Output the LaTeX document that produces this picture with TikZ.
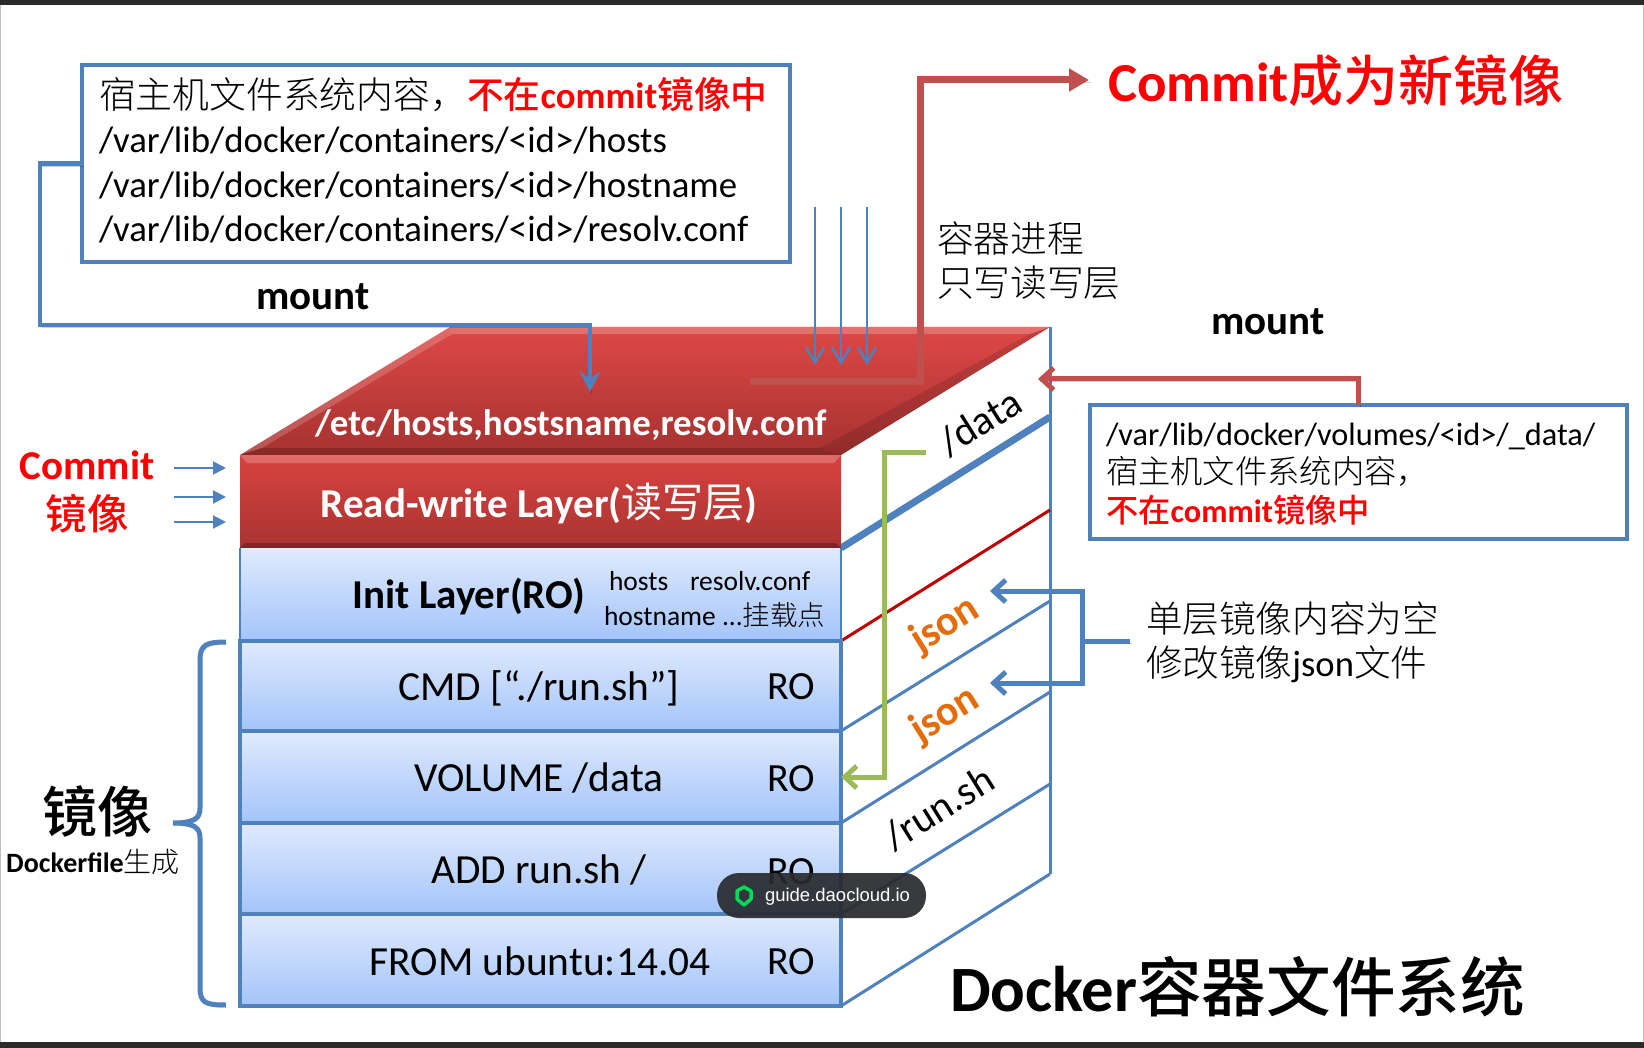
\documentclass[tikz,border=0pt]{standalone}
\usepackage{fontspec}
\setmainfont{Carlito}
\setsansfont{Liberation Sans}
\newfontfamily\cjk{Noto Sans CJK SC}
\newfontfamily\cjkl{Noto Sans CJK SC Light}
\newfontfamily\cjkm{Noto Sans CJK SC Medium}
\usetikzlibrary{arrows.meta,calc}
\definecolor{bl}{HTML}{4F81BD}
\definecolor{rd}{HTML}{C0504D}
\definecolor{gn}{HTML}{9BBB59}
\definecolor{og}{HTML}{E46C0A}
\definecolor{dred}{HTML}{C00000}
\definecolor{icon}{HTML}{00DC5A}
\newcommand{\fsz}[1]{\fontsize{#1}{#1}\selectfont}
\newcommand{\cn}[1]{{\mdseries\cjkl #1}}
\newcommand{\cb}[1]{{\mdseries\cjkm #1}}
\tikzset{
  txt/.style={inner sep=0pt,outer sep=0pt},
  shad/.style={preaction={draw=black,draw opacity=.18,arrows=-,transform canvas={shift={(1.5pt,-2.5pt)}}}},
  blue layer/.style={txt,anchor=north west,minimum width=601pt,shade,
    top color={rgb,255:red,224;green,234;blue,253},bottom color={rgb,255:red,163;green,196;blue,250},draw=bl,line width=4pt},
  infobox/.style={txt,anchor=north west,draw=bl,line width=4pt,fill=white},
  boxtext/.style={txt,anchor=west,align=left},
  con/.style={draw=bl,line width=4.5pt,line join=miter},
  thin arrow/.style={draw=bl,line width=2.5pt,-{Straight Barb[length=15pt,width=18pt,line width=2.5pt]}},
  small arrow/.style={draw=bl,line width=2pt,-{Triangle[length=13pt,width=13pt]}},
  barb/.style={-{Straight Barb[length=12pt,width=22pt,line width=5pt]}},
  side/.style={draw=bl,line width=3pt},
}
\begin{document}
\begin{tikzpicture}[x=1pt,y=-1pt]
\useasboundingbox (0,0) rectangle (1644,1048);
\fill[white] (0,0) rectangle (1644,1048);
\fill[black!83] (0,0) rectangle (1644,5);
\fill[black!83] (0,1042) rectangle (1644,1048);
\draw[black!25,line width=1pt] (0.5,5) -- (0.5,1042) (1643.5,5) -- (1643.5,1042);

% corner points of the box
\coordinate (tfl) at (240,455);
\coordinate (tbl) at (450,327);
\coordinate (tbr) at (1050,327);
\coordinate (tfr) at (841,455);

% side lines
\draw[side] (tbr) -- (1050,874);
\draw[side] (841,731) -- (1050,601);
\draw[side] (841,823) -- (1050,692);
\draw[side] (841,914) -- (1050,784);
\draw[side] (841,1006) -- (1050,874);
\draw[dred,line width=3pt] (841,641) -- (1050,510);
\draw[bl,line width=7pt] (841,548) -- (1050,417);

% top face
\shade[top color={rgb,255:red,222;green,72;blue,70},bottom color={rgb,255:red,165;green,50;blue,48}]
   (tfl) -- (tbl) -- (tbr) -- (tfr) -- cycle;
\fill[white,opacity=.22] (450,327) -- (1050,327) -- (1030,334) -- (452,334) -- cycle;
\fill[white,opacity=.18] (240,455) -- (450,327) -- (452,334) -- (262,448) -- cycle;
\fill[black,opacity=.18] (240,455) -- (262,448) -- (820,448) -- (841,455) -- cycle;
\fill[black,opacity=.12] (841,455) -- (820,448) -- (1030,334) -- (1050,327) -- cycle;

% layers
\node[txt,anchor=north west,minimum width=601pt,minimum height=93pt,shade,
   top color={rgb,255:red,216;green,66;blue,63},bottom color={rgb,255:red,168;green,52;blue,50}] (rw) at (240,455) {};
\fill[white,opacity=.22] (240,455) -- (841,455) -- (834,463) -- (247,463) -- cycle;
\fill[black,opacity=.25] (240,548) -- (841,548) -- (836,543) -- (245,543) -- cycle;
\node[blue layer,draw=none,minimum height=93pt] (init) at (240,548) {};
\draw[bl,line width=2pt] (init.north west) -- (init.south west) (init.north east) -- (init.south east);
\node[blue layer,minimum height=90pt] (lcmd) at (240,641) {};
\node[blue layer,minimum height=92pt] (lvol) at (240,731) {};
\node[blue layer,minimum height=91pt] (ladd) at (240,823) {};
\node[blue layer,minimum height=92pt] (lfrom) at (240,914) {};

% layer texts
\node[txt,white,anchor=west] (etc) at (315,425) {\fsz{36.9}\bfseries /etc/hosts,hostsname,resolv.conf};
\node[txt,white,anchor=center] (rwt) at (539,504) {\fsz{41}\bfseries Read-write Layer({\mdseries\cjk 读写层})};
\node[txt,anchor=center] (initt) at (469,597) {\fsz{41}\bfseries Init Layer(RO)};
\node[txt,anchor=base west] (hosts) at (609,590) {\fsz{27.5}hosts};
\node[txt,anchor=base west] (resolv) at (690,590) {\fsz{27.5}resolv.conf};
\node[txt,anchor=base west] (hostname) at (604,625) {\fsz{27.5}hostname ...\cn{挂载点}};
\node[txt,anchor=center] (tcmd) at (539,688) {\fsz{41.4}CMD [“./run.sh”]};
\node[txt,anchor=center] (tvol) at (539,778) {\fsz{41.4}VOLUME /data};
\node[txt,anchor=center] (tadd) at (539,870) {\fsz{41.4}ADD run.sh /};
\node[txt,anchor=center] (tfrom) at (540,961) {\fsz{41.4}FROM ubuntu:14.04};
\node[txt,anchor=center] (ro1) at (791,687) {\fsz{40}RO};
\node[txt,anchor=center] (ro2) at (791,779) {\fsz{40}RO};
\node[txt,anchor=center] (ro3) at (791,872) {\fsz{40}RO};
\node[txt,anchor=center] (ro4) at (791,962) {\fsz{40}RO};

% side texts
\node[txt,rotate=32] (tdata) at (980,422) {\fsz{41}/data};
\node[txt,rotate=32,og] (json1) at (945,625) {\fsz{42}\bfseries json};
\node[txt,rotate=32,og] (json2) at (945,715) {\fsz{42}\bfseries json};
\node[txt,rotate=32] (trun) at (939,808) {\fsz{41}/run.sh};

% info boxes
\node[infobox,minimum width=708pt,minimum height=197pt] (box1) at (82,65) {};
\node[boxtext,font=\fontsize{36.8}{44.5}\selectfont] (box1t) at (99,160) {%
\cn{宿主机文件系统内容，}\textcolor{red}{\cb{不在}\textbf{commit}\cb{镜像中}}\\
/var/lib/docker/containers/<id>/hosts\\
/var/lib/docker/containers/<id>/hostname\\
/var/lib/docker/containers/<id>/resolv.conf};
\node[infobox,minimum width=537pt,minimum height=134pt] (box2) at (1090,405) {};
\node[boxtext,font=\fontsize{32.3}{38.8}\selectfont] (box2t) at (1106,474) {%
/var/lib/docker/volumes/<id>/\_data/\\
\cn{宿主机文件系统内容，}\\
\textcolor{red}{\cb{不在}\textbf{commit}\cb{镜像中}}};

% free texts
\node[txt] (mountl) at (313,297) {\fsz{41}\bfseries mount};
\node[txt] (mountr) at (1268,322) {\fsz{41}\bfseries mount};
\node[txt,anchor=west,red] (newimg) at (1108,81) {\fsz{55}\bfseries Commit\cb{成为新镜像}};
\node[txt,anchor=west,align=left,font=\fontsize{36.7}{44}\selectfont] (proc) at (937,261) {\cn{容器进程}\\\cn{只写读写层}};
\node[txt,red] (commit) at (87,465) {\fsz{41}\bfseries Commit};
\node[txt,red] (commit2) at (87,514) {\fsz{41.5}\cb{镜像}};
\node[txt] (img) at (97,811) {\fsz{55}\cb{镜像}};
\node[txt] (dfile) at (93,862) {\fsz{28}\bfseries Dockerfile\cn{生成}};
\node[txt,anchor=west,align=left,font=\fontsize{36.6}{44}\selectfont] (single) at (1146,642) {\cn{单层镜像内容为空}\\\cn{修改镜像}json\cn{文件}};
\node[txt,anchor=west] (title) at (950,987) {\fsz{64.6}\bfseries Docker\cb{容器文件系统}};

% mount connector (left)
\coordinate (mlc) at (40,325);
\coordinate (mlt) at (590,392);
\draw[con,shad,-{Stealth[length=21pt,width=21pt,inset=8pt]}] (box1.west) -| (mlc) -| (mlt);

% commit arrow
\coordinate (cs) at (750,382);
\coordinate (cc) at (920,80);
\coordinate (ct) at (1089,80);
\draw[rd,line width=7pt,shad,-{Triangle[length=20pt,width=22pt]}] (cs) -| (cc) -- (ct);

% thin arrows into the top face
\coordinate (a1s) at (815,207); \coordinate (a1e) at (815,365);
\coordinate (a2s) at (841,207); \coordinate (a2e) at (841,365);
\coordinate (a3s) at (867,207); \coordinate (a3e) at (867,365);
\draw[thin arrow] (a1s) -- (a1e);
\draw[thin arrow] (a2s) -- (a2e);
\draw[thin arrow] (a3s) -- (a3e);

% small arrows
\coordinate (s1s) at (174,468); \coordinate (s1e) at (226,468);
\coordinate (s2s) at (174,497); \coordinate (s2e) at (226,497);
\coordinate (s3s) at (174,522); \coordinate (s3e) at (226,522);
\draw[small arrow] (s1s) -- (s1e);
\draw[small arrow] (s2s) -- (s2e);
\draw[small arrow] (s3s) -- (s3e);

% volume mount connector
\coordinate (vt) at (1038,379);
\draw[rd,line width=5pt,shad,barb] (box2.north) |- (vt);

% green connector
\coordinate (gs) at (926,452);
\coordinate (gc) at (884,777);
\draw[gn,line width=5pt,barb] (gs) -| (gc) -- (lvol.east);

% json bracket
\coordinate (ja) at (990,591);
\coordinate (jb) at (990,683);
\coordinate (jca) at (1082,591);
\coordinate (jcb) at (1082,683);
\coordinate (jm) at (1082,641);
\coordinate (je) at (1130,641);
\draw[con,line width=5pt,barb,shad] (jca) -- (ja);
\draw[con,line width=5pt,barb,shad] (jcb) -- (jb);
\draw[con,line width=5pt,shad,line cap=rect] (jca) -- (jcb);
\draw[con,line width=5pt,shad] (jm) -- (je);

% brace
\draw[bl,line width=5pt,shad] (226,642) .. controls (206,642) and (200,645) .. (200,660) -- (200,808)
  .. controls (200,818) and (195,823) .. (173,823)
  .. controls (195,823) and (200,828) .. (200,838) -- (200,988)
  .. controls (200,1003) and (206,1005) .. (226,1005);

% badge
\node[txt,anchor=north west,fill={rgb,255:red,40;green,42;blue,46},fill opacity=.92,rounded corners=22pt,minimum width=209pt,minimum height=45pt] (badge) at (717,873) {};
\draw[icon,line width=3.5pt,line join=round] (737,891) -- (744,887) -- (751,891) -- (751,899) -- (744,905) -- (737,899) -- cycle;
\node[txt,anchor=west,white,font=\sffamily] (badget) at (765,897) {\fsz{18.5}guide.daocloud.io};
\end{tikzpicture}
\end{document}
